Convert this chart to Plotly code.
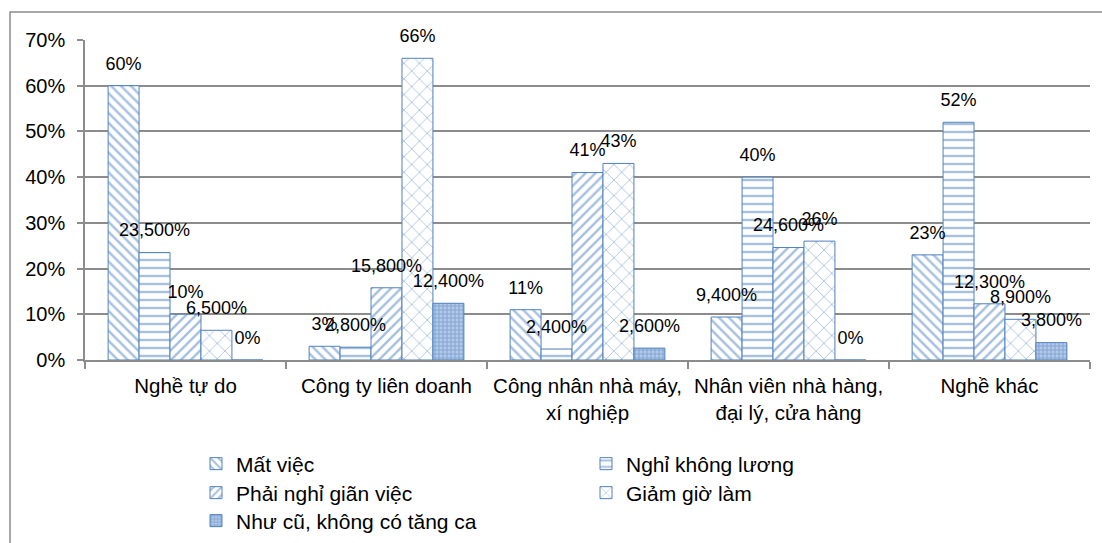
import plotly.graph_objects as go

categories = ["Nghề tự do", "Công ty liên doanh", "Công nhân nhà máy,<br>xí nghiệp",
              "Nhân viên nhà hàng,<br>đại lý, cửa hàng", "Nghề khác"]

series_names = ["Mất việc", "Nghỉ không lương", "Phải nghỉ giãn việc", "Giảm giờ làm",
                "Như cũ, không có tăng ca"]

mat_viec = [60, 3, 11, 9.4, 23]
nghi_khong_luong = [23.5, 2.8, 2.4, 40, 52]
nghi_gian_viec = [10, 15.8, 41, 24.6, 12.3]
giam_gio_lam = [6.5, 66, 43, 26, 8.9]
nhu_cu = [0, 12.4, 2.6, 0, 3.8]

label_mat_viec = ["60%", "3%", "11%", "9,400%", "23%"]
label_nghi_khong_luong = ["23,500%", "2,800%", "2,400%", "40%", "52%"]
label_nghi_gian_viec = ["10%", "15,800%", "41%", "24,600%", "12,300%"]
label_giam_gio_lam = ["6,500%", "66%", "43%", "26%", "8,900%"]
label_nhu_cu = ["0%", "12,400%", "2,600%", "0%", "3,800%"]

values = [mat_viec, nghi_khong_luong, nghi_gian_viec, giam_gio_lam, nhu_cu]
labels = [label_mat_viec, label_nghi_khong_luong, label_nghi_gian_viec, label_giam_gio_lam, label_nhu_cu]

BLUE = "#4F81BD"
patterns = [
    dict(shape="\\", size=7, solidity=0.35, fgcolor=BLUE, bgcolor="white"),
    dict(shape="-", size=8, solidity=0.3, fgcolor=BLUE, bgcolor="white"),
    dict(shape="/", size=7, solidity=0.35, fgcolor=BLUE, bgcolor="white"),
    dict(shape="x", size=11, solidity=0.15, fgcolor=BLUE, bgcolor="white"),
    dict(shape="+", size=4, solidity=0.45, fgcolor=BLUE, bgcolor="#b4c9e8"),
]
legend_ids = ["legend", "legend", "legend2", "legend2", "legend3"]

FONT = "Liberation Sans, Arial, sans-serif"

fig = go.Figure()
# bars
for name, v, p, lg in zip(series_names, values, patterns, legend_ids):
    fig.add_trace(go.Bar(
        x=categories, y=v, name=name,
        marker=dict(color="white", pattern=p, line=dict(color=BLUE, width=1)),
        legend=lg, hoverinfo="name+y",
    ))
# value labels on an overlaid axis so they sit on top of all bars
for name, v, t in zip(series_names, values, labels):
    fig.add_trace(go.Bar(
        x=categories, y=v, name=name, text=t, textposition="outside",
        textfont=dict(size=18, color="black", family=FONT),
        constraintext="none", cliponaxis=False,
        marker=dict(color="rgba(0,0,0,0)", line=dict(width=0)),
        xaxis="x2", yaxis="y2", showlegend=False, hoverinfo="skip",
    ))

L, R, T, B = 85, 12, 40, 183
W, H = 1102, 543
pw, ph = W - L - R, H - T - B

def px_x(x):
    return (x - L) / pw

def px_y(y):
    return (H - B - y) / ph

leg_common = dict(orientation="h", xref="container", yref="container", xanchor="left", yanchor="middle",
                  font=dict(size=21, color="black", family=FONT), entrywidth=345,
                  entrywidthmode="pixels", bgcolor="rgba(0,0,0,0)", itemwidth=30)

fig.update_layout(
    width=W, height=H,
    margin=dict(l=L, r=R, t=T, b=B, autoexpand=False),
    paper_bgcolor="white", plot_bgcolor="white",
    barmode="group", bargap=0.23, bargroupgap=0,
    font=dict(family=FONT, color="black"),
    showlegend=True,
    legend=dict(leg_common, x=196 / W, y=1 - 464 / H),
    legend2=dict(leg_common, x=196 / W, y=1 - 493 / H),
    legend3=dict(leg_common, x=196 / W, y=1 - 521 / H),
    xaxis=dict(
        showline=True, linecolor="#8c8c8c", linewidth=1.5,
        ticks="outside", tickson="boundaries", ticklen=7, tickcolor="#8c8c8c", tickwidth=1.5,
        tickfont=dict(size=20.5, color="black", family=FONT),
        tickangle=0, ticklabelstandoff=7,
        showgrid=False, automargin=False,
    ),
    yaxis=dict(
        range=[0, 70], dtick=10, ticksuffix="%",
        showline=True, linecolor="#8c8c8c", linewidth=1.5,
        ticks="outside", ticklen=6, tickcolor="#8c8c8c", tickwidth=1.5,
        showgrid=True, gridcolor="#8c8c8c", gridwidth=1.5,
        tickfont=dict(size=20, color="black", family=FONT),
        ticklabelstandoff=8,
        zeroline=False, automargin=False,
    ),
    xaxis2=dict(overlaying="x", matches="x", visible=False),
    yaxis2=dict(overlaying="y", range=[-2, 68], visible=False),
    shapes=[dict(type="rect", xref="paper", yref="paper",
                 x0=px_x(10), x1=px_x(1120), y0=px_y(570), y1=px_y(12),
                 line=dict(color="#8c8c8c", width=1.5), fillcolor="rgba(0,0,0,0)", layer="below")],
)

fig.write_html("out.html")
